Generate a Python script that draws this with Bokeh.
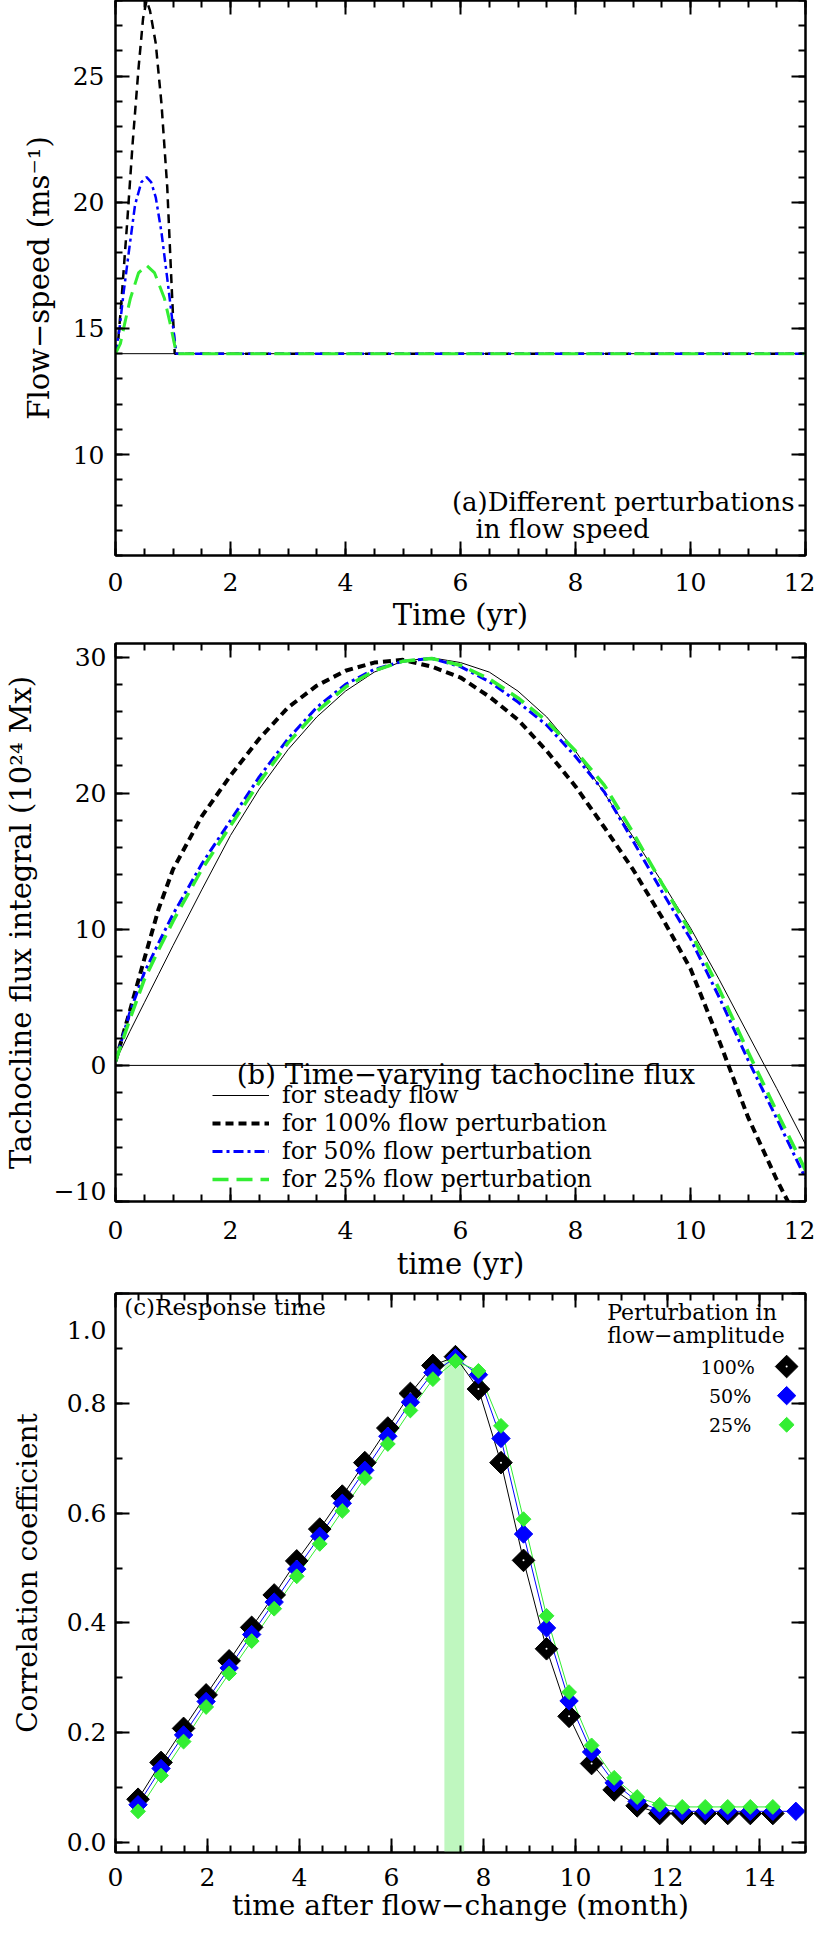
from bokeh.plotting import figure
from bokeh.layouts import column
from bokeh.models import (Range1d, LinearAxis, FixedTicker, Span, Label, Legend,
                          LegendItem, NumeralTickFormatter)
from bokeh.embed import file_html
from bokeh.resources import INLINE

FONT = "DejaVu Serif"
GREEN = "#33ee33"
BLUE = "#0000ff"

# ---------------- Panel (a): flow speed ----------------
a_steady_x = [0, 12]
a_steady_y = [14, 14]
a_p100_x = [0, 0.05, 0.1, 0.2, 0.3, 0.4, 0.48, 0.54, 0.6, 0.7, 0.8, 0.9, 0.97, 1.03, 12]
a_p100_y = [14, 14.6, 16.0, 19.1, 22.4, 25.3, 27.3, 28.0, 27.6, 26.3, 23.9, 20.6, 17.0, 14, 14]
a_p50_x = [0, 0.07, 0.14, 0.23, 0.34, 0.45, 0.54, 0.62, 0.7, 0.8, 0.91, 1.01, 1.06, 12]
a_p50_y = [14, 15.0, 16.4, 18.0, 19.9, 20.8, 21.0, 20.8, 20.2, 18.8, 16.8, 14.9, 14, 14]
a_p25_x = [0, 0.085, 0.17, 0.26, 0.4, 0.54, 0.68, 0.85, 0.95, 1.06, 12]
a_p25_y = [14, 14.4, 15.3, 16.2, 17.2, 17.5, 17.2, 16.2, 15.2, 14, 14]

# ---------------- Panel (b): tachocline flux ----------------
b_x = [0, 0.25, 0.5, 0.75, 1, 1.5, 2, 2.5, 3, 3.5, 4, 4.5, 5, 5.5, 6, 6.5, 7, 7.5,
       8, 8.5, 9, 9.5, 10, 10.5, 11, 11.5, 12]
b_steady = [0.3, 2.5, 4.6, 6.7, 8.8, 12.9, 16.9, 20.3, 23.2, 25.6, 27.5, 28.9, 29.7, 29.95,
            29.6, 28.9, 27.5, 25.6, 23.1, 20.0, 16.8, 13.5, 10.1, 6.3, 2.3, -1.7, -5.8]
b_p100 = [0.3, 4.0, 7.8, 11.5, 14.4, 18.3, 21.3, 24.0, 26.3, 27.9, 29.0, 29.6, 29.8, 29.3,
          28.5, 27.1, 25.4, 23.1, 20.5, 17.5, 14.4, 10.9, 7.1, 1.8, -3.8, -8.4, -12.5]
b_p50 = [0.3, 3.9, 6.8, 9.0, 11.1, 14.8, 18.0, 21.2, 24.0, 26.3, 28.0, 29.1, 29.7, 29.9,
         29.3, 28.2, 26.7, 25.0, 22.7, 20.1, 16.5, 12.8, 9.3, 5.0, 0.4, -3.9, -8.3]
b_p25 = [0.3, 3.4, 6.3, 8.5, 10.6, 14.4, 17.6, 20.8, 23.7, 26.0, 27.8, 29.0, 29.7, 29.9,
         29.4, 28.4, 27.0, 25.3, 23.1, 20.6, 17.1, 13.4, 9.8, 5.6, 1.0, -3.4, -7.7]

# ---------------- Panel (c): correlation vs lag ----------------
c_month = [0.49, 0.99, 1.48, 1.97, 2.47, 2.96, 3.45, 3.94, 4.44, 4.93, 5.42, 5.92, 6.41,
           6.90, 7.39, 7.89, 8.38, 8.87, 9.37, 9.86, 10.35, 10.84, 11.34, 11.83, 12.32,
           12.82, 13.31, 13.80, 14.29, 14.79]
c_r100 = [0.079, 0.146, 0.208, 0.269, 0.331, 0.392, 0.451, 0.513, 0.571, 0.631, 0.692,
          0.755, 0.818, 0.869, 0.885, 0.826, 0.692, 0.514, 0.353, 0.230, 0.144, 0.096,
          0.067, 0.053, 0.053, 0.053, 0.053, 0.053, 0.053]
c_r50 = [0.069, 0.135, 0.196, 0.257, 0.318, 0.379, 0.438, 0.498, 0.558, 0.618, 0.678,
         0.740, 0.802, 0.856, 0.883, 0.852, 0.736, 0.562, 0.391, 0.258, 0.165, 0.109,
         0.075, 0.059, 0.057, 0.057, 0.057, 0.057, 0.057, 0.057]
c_r25 = [0.057, 0.122, 0.184, 0.247, 0.308, 0.367, 0.426, 0.485, 0.544, 0.604, 0.664,
         0.726, 0.787, 0.844, 0.877, 0.859, 0.759, 0.589, 0.413, 0.274, 0.177, 0.118,
         0.083, 0.069, 0.065, 0.065, 0.065, 0.065, 0.065]
c_band = [7.15, 7.58, 0.88]          # left, right, top of the response-time band
c_leg_labels = ["100%", "50%", "25%"]

TICK_PX = "25px"
TITLE_PX = "29px"


def make_fig(h, xr, yr, bl, br, bt, bb):
    p = figure(width=815, height=h, x_range=Range1d(*xr), y_range=Range1d(*yr),
               output_backend="svg", toolbar_location=None,
               min_border_left=bl, min_border_right=br,
               min_border_top=bt, min_border_bottom=bb)
    p.xgrid.visible = False
    p.ygrid.visible = False
    p.outline_line_color = "black"
    p.outline_line_width = 2
    p.border_fill_color = "white"
    p.background_fill_color = "white"
    return p


def style_axes(p, xmaj, xmin, ymaj, ymin, xlabel, ylabel,
               xstand, xlstand, ystand, ylstand, title_px=TITLE_PX):
    p.add_layout(LinearAxis(), "above")
    p.add_layout(LinearAxis(), "right")
    for ax in p.xaxis:
        ax.ticker = FixedTicker(ticks=xmaj, minor_ticks=xmin)
    for ax in p.yaxis:
        ax.ticker = FixedTicker(ticks=ymaj, minor_ticks=ymin)
    for ax in p.axis:
        ax.major_tick_in = 14
        ax.major_tick_out = 0
        ax.minor_tick_in = 7
        ax.minor_tick_out = 0
        ax.axis_line_width = 2
        ax.major_tick_line_width = 2
        ax.minor_tick_line_width = 2
        ax.major_label_text_font = FONT
        ax.major_label_text_font_size = TICK_PX
        ax.major_label_text_color = "black"
        ax.axis_label_text_font = FONT
        ax.axis_label_text_font_style = "normal"
        ax.axis_label_text_font_size = title_px
        ax.axis_label_text_color = "black"
    for ax in list(p.above) + list(p.right):
        ax.major_label_text_font_size = "0px"
        ax.major_label_text_color = None
        ax.major_label_standoff = 0
    bx = p.below[0]
    bx.axis_label = xlabel
    bx.major_label_standoff = xstand
    bx.axis_label_standoff = xlstand
    ly = p.left[0]
    ly.axis_label = ylabel
    ly.major_label_standoff = ystand
    ly.axis_label_standoff = ylstand


def frange(a, b, s):
    out = []
    v = a
    while v <= b + 1e-9:
        out.append(round(v, 4))
        v += s
    return out


def txt(p, x, y, s, size, align="left"):
    p.add_layout(Label(x=x, y=y, text=s, text_font=FONT, text_font_size=size,
                       text_baseline="middle", text_align=align, text_color="black"))


# ---------- figure (a) ----------
pa = make_fig(640, (0, 12), (6, 28), 106, 7, 0, 85)
style_axes(pa, frange(0, 12, 2), frange(0, 12, 0.5), [10, 15, 20, 25], frange(6, 28, 1),
           "Time (yr)", "Flow\u2212speed (ms\u207b\u00b9)", 17, 4, 11, 14)
pa.line(a_steady_x, a_steady_y, line_color="black", line_width=1)
pa.line(a_p100_x, a_p100_y, line_color="black", line_width=2.5, line_dash="9 6")
pa.line(a_p50_x, a_p50_y, line_color=BLUE, line_width=2.5, line_dash="9 4 3 4")
pa.line(a_p25_x, a_p25_y, line_color=GREEN, line_width=3, line_dash="16 8")
txt(pa, 5.85, 8.13, "(a)Different perturbations", "26px")
txt(pa, 6.26, 7.06, "in flow speed", "26px")

# ---------- figure (b) ----------
pb = make_fig(649, (0, 12), (-10, 31), 110, 10, 3, 88)
style_axes(pb, frange(0, 12, 2), frange(0, 12, 0.5), [-10, 0, 10, 20, 30], frange(-10, 30, 2),
           "time (yr)", "Tachocline flux integral (10\u00b2\u2074 Mx)", 19, 5, 9, 13)
pb.left[0].major_label_overrides = {-10: "\u221210\n"}
pb.left[0].major_label_text_line_height = 0.7
pb.add_layout(Span(location=0, dimension="width", line_color="black", line_width=1))
r0 = pb.line(b_x, b_steady, line_color="black", line_width=1)
r1 = pb.line(b_x, b_p100, line_color="black", line_width=4, line_dash="8 5")
r2 = pb.line(b_x, b_p50, line_color=BLUE, line_width=3, line_dash="10 4 3 4")
r3 = pb.line(b_x, b_p25, line_color=GREEN, line_width=3.5, line_dash="16 8")
leg = Legend(items=[LegendItem(label="for steady flow", renderers=[r0]),
                    LegendItem(label="for 100% flow perturbation", renderers=[r1]),
                    LegendItem(label="for 50% flow perturbation", renderers=[r2]),
                    LegendItem(label="for 25% flow perturbation", renderers=[r3])],
             location=(97, 8), glyph_width=57, glyph_height=26, label_height=26,
             label_standoff=13, spacing=0, padding=0, margin=0,
             border_line_color=None, background_fill_alpha=0,
             label_text_font=FONT, label_text_font_size="23.5px",
             label_text_color="black")
pb.add_layout(leg)
txt(pb, 2.11, -0.6, "(b) Time\u2212varying tachocline flux", "27.5px")

# ---------- figure (c) ----------
pc = make_fig(641, (0, 15), (-0.018, 1.0), 110, 6, 4, 78)
style_axes(pc, frange(0, 14, 2), frange(0, 15, 0.5), frange(0, 1.0, 0.2), frange(0, 1.0, 0.1),
           "time after flow\u2212change (month)", "Correlation coefficient", 15, 0, 9, 20,
           title_px="28px")
pc.left[0].formatter = NumeralTickFormatter(format="0.0")
pc.left[0].major_label_overrides = {1.0: "\n1.0"}
pc.left[0].major_label_text_line_height = 0.9
pc.quad(left=[c_band[0]], right=[c_band[1]], bottom=[-0.018], top=[c_band[2]],
        fill_color="#bff7bf", line_color=None)
n100 = len(c_r100)
n25 = len(c_r25)
pc.line(c_month[:n100], c_r100, line_color="black", line_width=1)
pc.line(c_month, c_r50, line_color=BLUE, line_width=1)
pc.line(c_month[:n25], c_r25, line_color=GREEN, line_width=1)
pc.scatter(c_month[:n100], c_r100, marker="square", angle=0.785398, size=16,
           fill_color="black", line_color="black")
pc.scatter(c_month[:n100], c_r100, marker="circle", size=2, fill_color="white", line_color=None)
pc.scatter(c_month, c_r50, marker="square", angle=0.785398, size=13,
           fill_color=BLUE, line_color=BLUE)
pc.scatter(c_month[:n25], c_r25, marker="square", angle=0.785398, size=10.5,
           fill_color=GREEN, line_color=GREEN)
txt(pc, 0.19, 0.976, "(c)Response time", "23px")
txt(pc, 10.69, 0.966, "Perturbation in", "22px")
txt(pc, 10.69, 0.923, "flow\u2212amplitude", "22px")
leg_y = [0.867, 0.814, 0.761]
leg_tx = [13.9, 13.82, 13.82]
for lbl, yy, tx in zip(c_leg_labels, leg_y, leg_tx):
    txt(pc, tx, yy, lbl, "19px", align="right")
pc.scatter([14.59], [leg_y[0]], marker="square", angle=0.785398, size=16,
           fill_color="black", line_color="black")
pc.scatter([14.59], [leg_y[0]], marker="circle", size=2, fill_color="white", line_color=None)
pc.scatter([14.59], [leg_y[1]], marker="square", angle=0.785398, size=13,
           fill_color=BLUE, line_color=BLUE)
pc.scatter([14.59], [leg_y[2]], marker="square", angle=0.785398, size=10.5,
           fill_color=GREEN, line_color=GREEN)

layout = column(pa, pb, pc, spacing=0)
open("out.html", "w").write(file_html(layout, INLINE))
